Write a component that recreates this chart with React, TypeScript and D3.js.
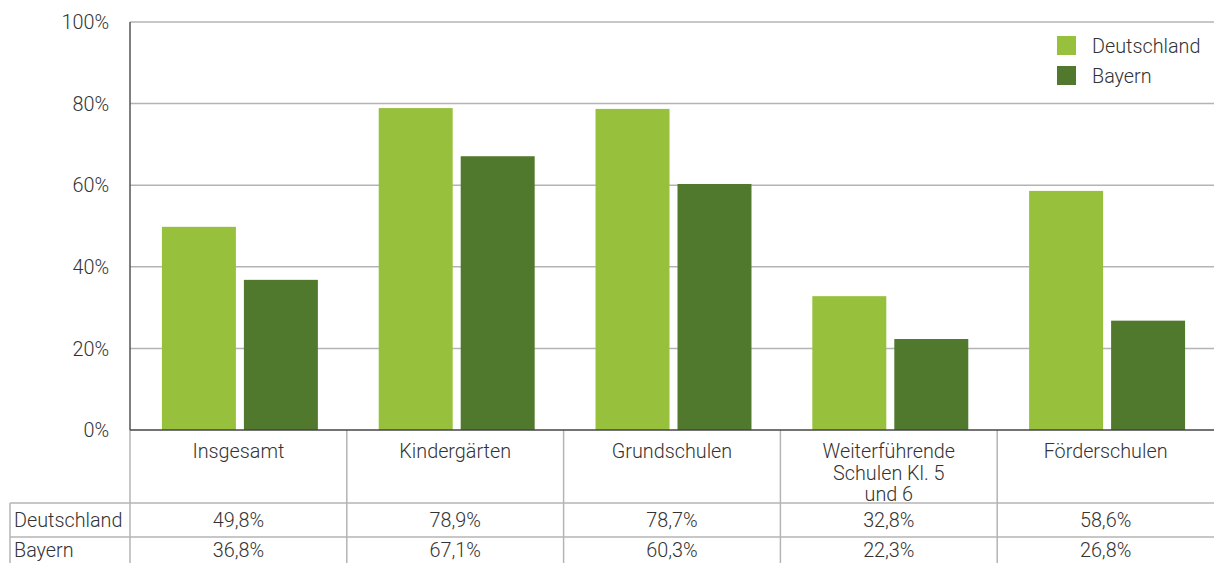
import React from 'react';
import * as d3 from 'd3';

const categories = ['Insgesamt', 'Kindergärten', 'Grundschulen', 'Weiterführende\nSchulen Kl. 5\nund 6', 'Förderschulen'];
const series = ['Deutschland', 'Bayern'];
const deutschland = [49.8, 78.9, 78.7, 32.8, 58.6];
const bayern = [36.8, 67.1, 60.3, 22.3, 26.8];
const yTicks = [0, 20, 40, 60, 80, 100];
const colors = ['#97c03d', '#51792e'];

const W = 1214;
const H = 563;
const left = 130;
const right = 1214;
const top = 22;
const bottom = 430;
const font = 'Roboto, "Liberation Sans", sans-serif';
const textColor = '#333';
const gridColor = '#b4b4b4';
const fs = 19.8;

const fmt = (v: number) => v.toFixed(1).replace('.', ',') + '%';

const App = () => {
  const values = [deutschland, bayern];
  const x0 = d3.scaleBand<number>().domain(d3.range(categories.length)).range([left, right]);
  const x1 = d3.scaleBand<string>()
    .domain(series)
    .range([0, x0.bandwidth()])
    .paddingInner(0.0976)
    .paddingOuter(0.371);
  const y = d3.scaleLinear().domain([0, 100]).range([bottom, top]);

  const rowY = [503, 537];
  const rowText = [520, 550];

  return (
    <svg width={W} height={H} style={{ position: 'absolute', left: 0, top: 0 }} fontFamily={font}>
      {/* gridlines */}
      {yTicks.filter((t) => t > 0).map((t) => (
        <line key={t} x1={left} x2={right} y1={y(t)} y2={y(t)} stroke={gridColor} strokeWidth={1.5} />
      ))}
      {/* bars */}
      {categories.map((c, i) => (
        <g key={c} transform={`translate(${x0(i)! + 1.5},0)`}>
          {series.map((s, k) => (
            <rect key={s} x={x1(s)} y={y(values[k][i])} width={x1.bandwidth()} height={bottom - y(values[k][i])} fill={colors[k]} />
          ))}
        </g>
      ))}
      {/* y labels */}
      {yTicks.map((t) => (
        <text key={t} x={109} y={y(t)} dy="0.36em" textAnchor="end" fontSize={fs} fontWeight={300} fill={textColor}>{t}%</text>
      ))}
      {/* table lines */}
      {d3.range(categories.length).map((i) => (
        <line key={i} x1={x0(i)!} x2={x0(i)!} y1={bottom} y2={H} stroke={gridColor} strokeWidth={1.5} />
      ))}
      {rowY.map((ry) => (
        <line key={ry} x1={10} x2={right} y1={ry} y2={ry} stroke={gridColor} strokeWidth={1.5} />
      ))}
      <line x1={10} x2={10} y1={rowY[0]} y2={H} stroke={gridColor} strokeWidth={1.5} />
      {/* axes */}
      <line x1={left} x2={left} y1={top} y2={bottom} stroke="#555" strokeWidth={1.5} />
      <line x1={left} x2={right} y1={bottom} y2={bottom} stroke="#444" strokeWidth={1.5} />
      {/* category labels */}
      {categories.map((c, i) => {
        const cx = x0(i)! + x0.bandwidth() / 2;
        const lines = c.split('\n');
        return (
          <text key={c} x={cx} textAnchor="middle" fontSize={fs} fontWeight={300} fill={textColor}>
            {lines.map((ln, j) => (
              <tspan key={j} x={cx} y={451 + j * 21.5} dy="0.36em">{ln}</tspan>
            ))}
          </text>
        );
      })}
      {/* table rows */}
      {series.map((s, k) => (
        <g key={s}>
          <text x={14} y={rowText[k]} dy="0.36em" fontSize={fs} fontWeight={300} fill={textColor}>{s}</text>
          {values[k].map((v, i) => (
            <text key={i} x={x0(i)! + x0.bandwidth() / 2} y={rowText[k]} dy="0.36em" textAnchor="middle" fontSize={fs} fontWeight={300} fill={textColor}>{fmt(v)}</text>
          ))}
        </g>
      ))}
      {/* legend */}
      {series.map((s, k) => (
        <g key={s} transform={`translate(1057,${36 + k * 30})`}>
          <rect width={19} height={19} fill={colors[k]} />
          <text x={35} y={9.5} dy="0.36em" fontSize={fs} fontWeight={300} fill={textColor}>{s}</text>
        </g>
      ))}
    </svg>
  );
};

export default App;
